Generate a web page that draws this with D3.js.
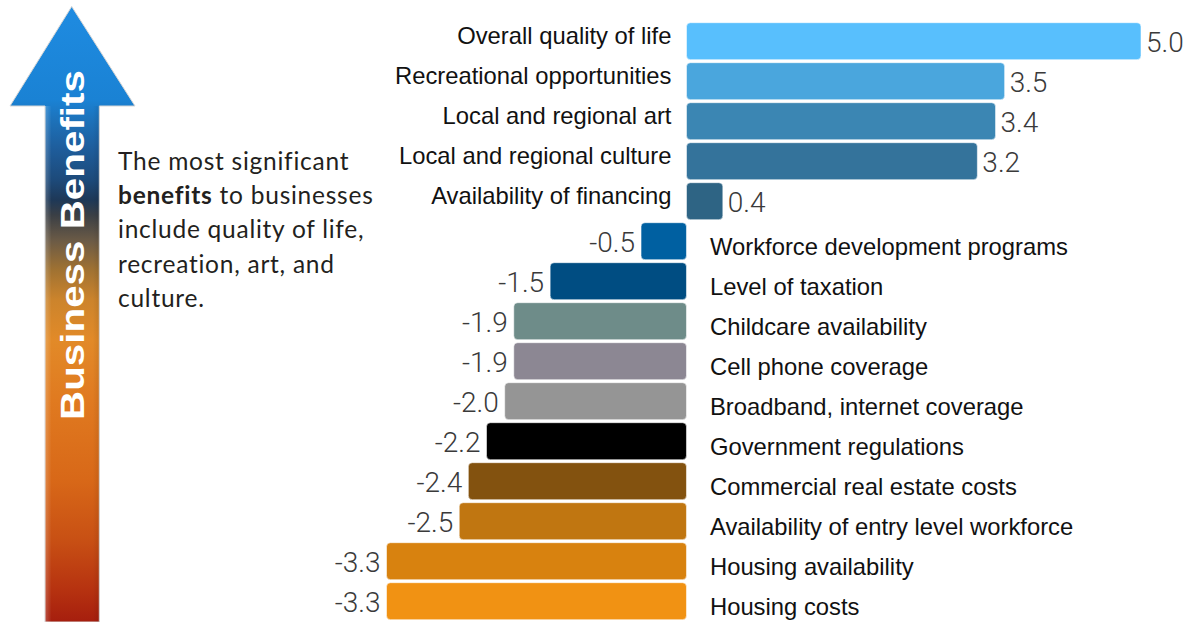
<!DOCTYPE html>
<html>
<head>
<meta charset="utf-8">
<script src="https://cdn.jsdelivr.net/npm/d3@7"></script>
<style>
  html, body { margin: 0; padding: 0; background: #ffffff; }
  svg { display: block; }
</style>
</head>
<body>
<svg id="chart" width="1194" height="622"></svg>
<script>
// Business factors, ordered from most beneficial to most detrimental
const categories = [
  "Overall quality of life",
  "Recreational opportunities",
  "Local and regional art",
  "Local and regional culture",
  "Availability of financing",
  "Workforce development programs",
  "Level of taxation",
  "Childcare availability",
  "Cell phone coverage",
  "Broadband, internet coverage",
  "Government regulations",
  "Commercial real estate costs",
  "Availability of entry level workforce",
  "Housing availability",
  "Housing costs"
];
const values = [5.0, 3.5, 3.4, 3.2, 0.4, -0.5, -1.5, -1.9, -1.9, -2.0, -2.2, -2.4, -2.5, -3.3, -3.3];
const barColors = [
  "#58bffd", "#4aa6dd", "#3b86b3", "#34739b", "#2e6484",
  "#0060a1", "#004d82", "#6e8c89", "#8c8793", "#959595",
  "#000000", "#83520f", "#c07611", "#d8820f", "#f19213"
];
const arrowTitle = "Business Benefits";
const noteLines = [
  [{ t: "The most significant", b: false }],
  [{ t: "benefits", b: true }, { t: " to businesses", b: false }],
  [{ t: "include quality of life,", b: false }],
  [{ t: "recreation, art, and", b: false }],
  [{ t: "culture.", b: false }]
];

const svg = d3.select("#chart");
const defs = svg.append("defs");

// ---- Scales ----
const x = d3.scaleLinear()
  .domain([d3.min(values), d3.max(values)])
  .range([386.5, 1141]);

const y = d3.scaleBand()
  .domain(categories)
  .range([21.2, 621.2])
  .paddingInner(0.075)
  .paddingOuter(0.0375);

// ---- Arrow on the left ----
const grad = defs.append("linearGradient")
  .attr("id", "arrowGrad")
  .attr("gradientUnits", "userSpaceOnUse")
  .attr("x1", 0).attr("y1", 0).attr("x2", 0).attr("y2", 622);
[
  [0, "#1f8ce2"], [100, "#1a82d4"], [120, "#1d72ba"], [150, "#1e5c9a"],
  [180, "#1d4a7a"], [200, "#1e3857"], [215, "#3a3f45"], [240, "#6a5a46"],
  [270, "#a07232"], [300, "#cc842c"], [340, "#e28a28"], [400, "#e07a20"],
  [480, "#d86818"], [540, "#c85014"], [590, "#b63210"], [622, "#a61e0e"]
].forEach(([pos, c]) => {
  grad.append("stop").attr("offset", pos / 622).attr("stop-color", c);
});

// Cylinder-like shading across the shaft
const shade = defs.append("linearGradient")
  .attr("id", "shaftShade")
  .attr("x1", 0).attr("y1", 0).attr("x2", 1).attr("y2", 0);
shade.append("stop").attr("offset", 0).attr("stop-color", "#ffffff").attr("stop-opacity", 0.22);
shade.append("stop").attr("offset", 0.12).attr("stop-color", "#ffffff").attr("stop-opacity", 0.0);
shade.append("stop").attr("offset", 0.88).attr("stop-color", "#000000").attr("stop-opacity", 0.0);
shade.append("stop").attr("offset", 1).attr("stop-color", "#000000").attr("stop-opacity", 0.08);

const arrow = svg.append("g").attr("class", "arrow");
const tip = [71.7, 6.5], headY = 106, headL = 10, headR = 135, shaftL = 45, shaftR = 99.3, bottom = 622;
const arrowPath = d3.path();
arrowPath.moveTo(tip[0], tip[1]);
arrowPath.lineTo(headR, headY);
arrowPath.lineTo(shaftR, headY);
arrowPath.lineTo(shaftR, bottom);
arrowPath.lineTo(shaftL, bottom);
arrowPath.lineTo(shaftL, headY);
arrowPath.lineTo(headL, headY);
arrowPath.closePath();

arrow.append("path")
  .attr("d", arrowPath.toString())
  .attr("fill", "url(#arrowGrad)")
  .attr("stroke", "#d6d6d6")
  .attr("stroke-width", 1);

arrow.append("rect")
  .attr("x", shaftL).attr("y", headY)
  .attr("width", shaftR - shaftL).attr("height", bottom - headY)
  .attr("fill", "url(#shaftShade)");

arrow.append("text")
  .attr("transform", `translate(84,245) rotate(-90)`)
  .attr("text-anchor", "middle")
  .attr("font-family", "'Liberation Sans', Arial, sans-serif")
  .attr("font-weight", 700)
  .attr("font-size", 33.5)
  .attr("fill", "#ffffff")
  .attr("textLength", 350)
  .attr("lengthAdjust", "spacingAndGlyphs")
  .text(arrowTitle);

// ---- Note text ----
const note = svg.append("text")
  .attr("font-family", "Lato, 'Open Sans', sans-serif")
  .attr("font-size", 24.5)
  .attr("letter-spacing", 0.75)
  .attr("fill", "#231f20");
noteLines.forEach((line, i) => {
  const row = note.append("tspan").attr("x", 118).attr("y", 169.5 + i * 34.4);
  line.forEach((seg, j) => {
    const t = j === 0 ? row : note.append("tspan");
    t.attr("font-weight", seg.b ? 700 : 400).text(seg.t);
  });
});

// ---- Bars ----
const rows = categories.map((c, i) => ({ name: c, value: values[i], color: barColors[i] }));
const g = svg.append("g").attr("class", "bars");

g.selectAll("rect.bar")
  .data(rows)
  .join("rect")
  .attr("class", "bar")
  .attr("x", d => x(Math.min(0, d.value)))
  .attr("y", d => y(d.name))
  .attr("width", d => Math.abs(x(d.value) - x(0)))
  .attr("height", y.bandwidth())
  .attr("rx", 4)
  .attr("fill", d => d.color)
  .attr("stroke", "rgba(255,255,255,0.55)")
  .attr("stroke-width", 1);

// Value labels beside each bar (plain hyphen for negatives)
const fmt = v => d3.format(".1f")(v).replace("\u2212", "-");
g.selectAll("text.value")
  .data(rows)
  .join("text")
  .attr("class", "value")
  .attr("x", d => d.value >= 0 ? x(d.value) + 5 : x(d.value) - 6)
  .attr("y", d => y(d.name) + y.bandwidth() / 2 + 11)
  .attr("text-anchor", d => d.value >= 0 ? "start" : "end")
  .attr("font-family", "Roboto, 'Liberation Sans', sans-serif")
  .attr("font-weight", 300)
  .attr("font-size", 28)
  .attr("fill", "#3a3a3a")
  .text(d => fmt(d.value));

// Category labels: left of zero for benefits, right of zero for drawbacks
g.selectAll("text.cat")
  .data(rows)
  .join("text")
  .attr("class", "cat")
  .attr("x", d => d.value >= 0 ? x(0) - 15 : x(0) + 23.5)
  .attr("y", d => y(d.name) + y.bandwidth() / 2 + (d.value >= 0 ? 3.2 : 13.5))
  .attr("text-anchor", d => d.value >= 0 ? "end" : "start")
  .attr("font-family", "'Liberation Sans', Arial, sans-serif")
  .attr("font-size", 23.8)
  .attr("fill", "#111111")
  .text(d => d.name);
</script>
</body>
</html>
